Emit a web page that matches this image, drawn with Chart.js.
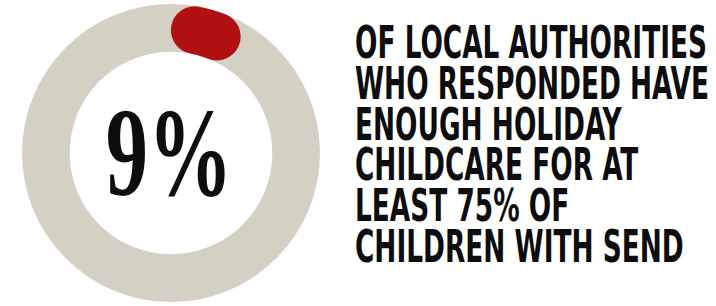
<!DOCTYPE html>
<html>
<head>
<meta charset="utf-8">
<script src="https://cdn.jsdelivr.net/npm/chart.js@4/dist/chart.umd.min.js"></script>
<style>
  html, body { margin: 0; padding: 0; background: #fff; }
  #wrap { position: relative; width: 716px; height: 306px; overflow: hidden; }
  #chartBox { position: absolute; left: 22px; top: 4px; width: 298px; height: 298px; }
  #caption {
    position: absolute; left: 355px; top: 29px;
    font-family: "DejaVu Sans Condensed", "DejaVu Sans", sans-serif;
    font-weight: bold; font-size: 44px;
    color: #0d0d0d; white-space: nowrap;
    transform-origin: 0 0;
  }
  #caption div { height: 40.8px; position: relative; }
  #caption span { position: absolute; left: 0; top: 0; line-height: 1; }
</style>
</head>
<body>
<div id="wrap">
  <div id="chartBox"><canvas id="ringChart"></canvas></div>
  <div id="caption"></div>
</div>
<script>
// ========================================
// DADOS
// ========================================

const categories = ['Enough holiday childcare', 'Not enough / no answer'];
const values = [9, 91];
const sliceColors = ['#b11113', 'rgba(0,0,0,0)'];
const trackColor = '#d4d1c4';
const captionLines = [
  'OF LOCAL AUTHORITIES',
  'WHO RESPONDED HAVE',
  'ENOUGH HOLIDAY',
  'CHILDCARE FOR AT',
  'LEAST 75% OF',
  'CHILDREN WITH SEND'
];

// ========================================
// TEXTO DA DIREITA
// ========================================

const caption = document.getElementById('caption');
const spans = captionLines.map(line => {
  const div = document.createElement('div');
  const span = document.createElement('span');
  span.textContent = line;
  div.appendChild(span);
  caption.appendChild(div);
  return span;
});

// ajustar a largura da primeira linha a 352px (fonte condensada)
function fitCaption() {
  const w = spans[0].getBoundingClientRect().width;
  const sx = 352 / w;
  spans.forEach(s => {
    s.style.transform = 'scaleX(' + sx + ')';
    s.style.transformOrigin = '0 0';
  });
  // alinhar o topo das maiúsculas
  spans.forEach(s => { s.style.top = '-8px'; });
}
fitCaption();

// ========================================
// GRÁFICO
// ========================================

// anel cinza completo por baixo da fatia vermelha
const trackPlugin = {
  id: 'track',
  beforeDatasetsDraw(chart) {
    const arc = chart.getDatasetMeta(0).data[0];
    if (!arc) return;
    const ctx = chart.ctx;
    ctx.save();
    ctx.beginPath();
    ctx.arc(arc.x, arc.y, arc.outerRadius, 0, Math.PI * 2);
    ctx.arc(arc.x, arc.y, arc.innerRadius, 0, Math.PI * 2, true);
    ctx.fillStyle = trackColor;
    ctx.fill();
    ctx.restore();
  }
};

// valor no centro
const centerTextPlugin = {
  id: 'centerText',
  afterDatasetsDraw(chart) {
    const arc = chart.getDatasetMeta(0).data[0];
    if (!arc) return;
    const ctx = chart.ctx;
    const label = values[0] + '%';
    ctx.save();
    ctx.font = 'bold 128px "Liberation Serif", "DejaVu Serif", serif';
    ctx.fillStyle = '#0d0d0d';
    ctx.textAlign = 'center';
    ctx.textBaseline = 'middle';
    ctx.translate(arc.x - 2, arc.y + 9);
    ctx.scale(0.66, 1);
    ctx.fillText(label, 0, 0);
    ctx.restore();
  }
};

new Chart(document.getElementById('ringChart'), {
  type: 'doughnut',
  data: {
    labels: categories,
    datasets: [{
      data: values,
      backgroundColor: sliceColors,
      borderWidth: 0,
      borderRadius: ctx => ctx.dataIndex === 0 ? 40 : 0
    }]
  },
  options: {
    responsive: true,
    maintainAspectRatio: false,
    animation: false,
    cutout: '68%',
    events: [],
    plugins: {
      legend: { display: false },
      tooltip: { enabled: false }
    }
  },
  plugins: [trackPlugin, centerTextPlugin]
});
</script>
</body>
</html>
